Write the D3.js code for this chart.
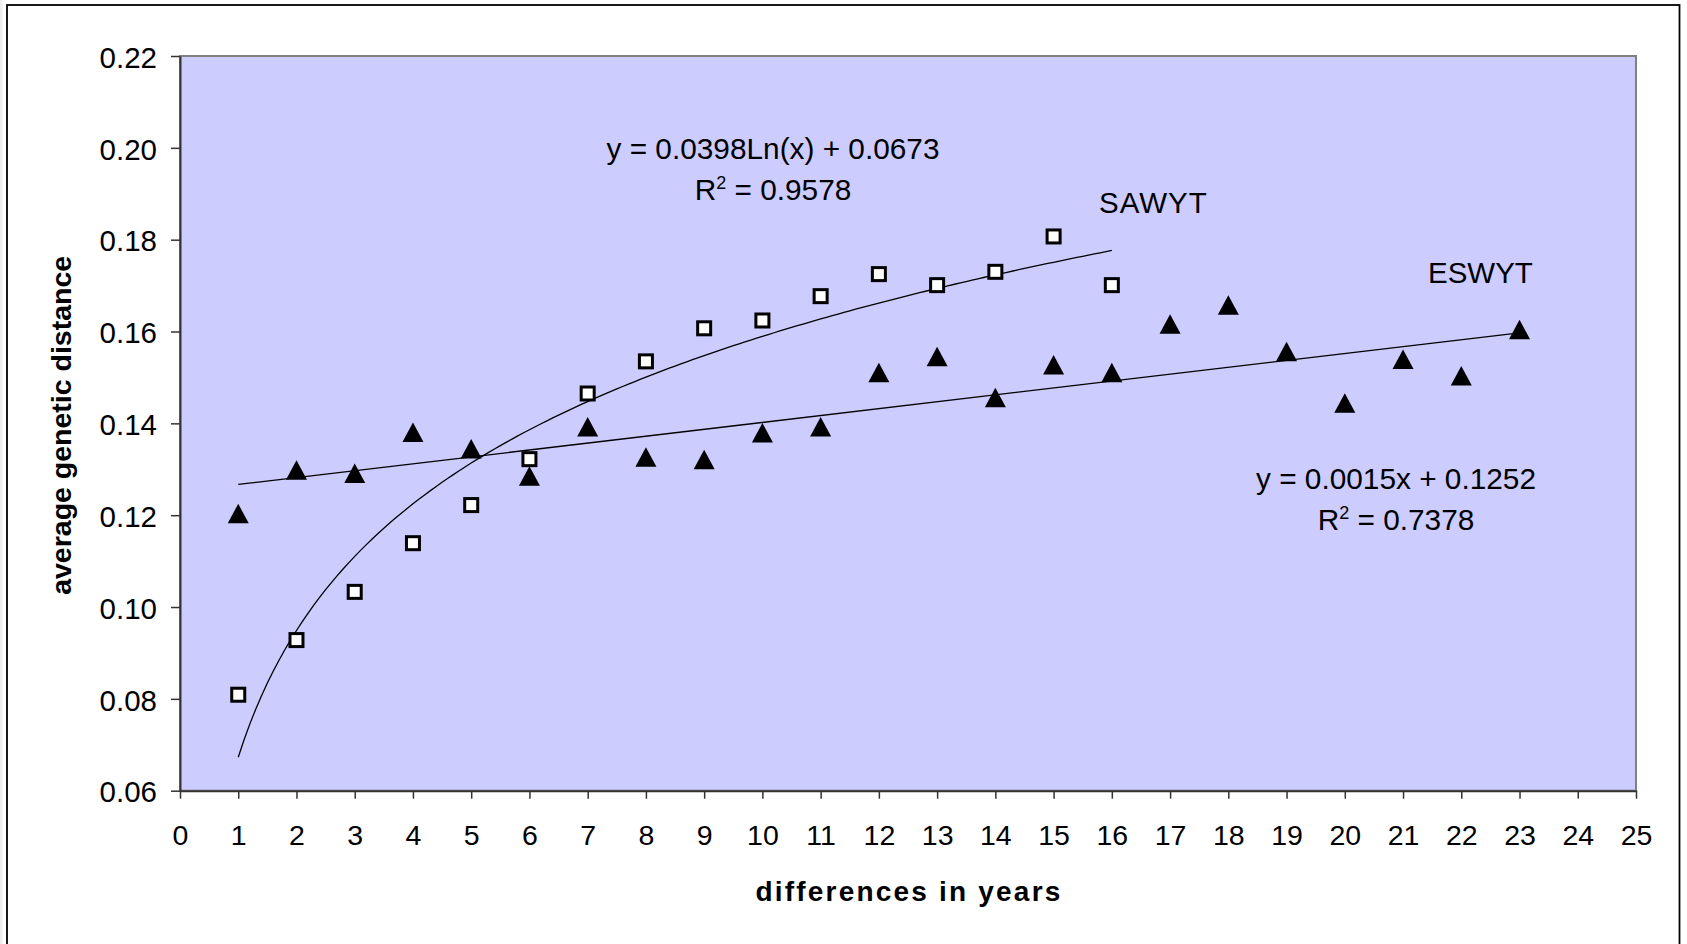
<!DOCTYPE html>
<html>
<head>
<meta charset="utf-8">
<script src="https://cdn.jsdelivr.net/npm/d3@7"></script>
<style>
  html, body { margin: 0; padding: 0; background: #ffffff; }
  svg { display: block; font-family: "Liberation Sans", Arial, sans-serif; }
</style>
</head>
<body>
<svg id="chart" width="1687" height="944"></svg>
<script>
// Difference in years between nursery entries
const yearsSAWYT = [1, 2, 3, 4, 5, 6, 7, 8, 9, 10, 11, 12, 13, 14, 15, 16];
const yearsESWYT = [1, 2, 3, 4, 5, 6, 7, 8, 9, 10, 11, 12, 13, 14, 15, 16, 17, 18, 19, 20, 21, 22, 23];

// Average genetic distance per year difference
const sawytValues = [0.0809, 0.0928, 0.1033, 0.1139, 0.1222, 0.1322, 0.1465, 0.1535,
                     0.1607, 0.1624, 0.1677, 0.1725, 0.1701, 0.1730, 0.1807, 0.1701];
const eswytValues = [0.1203, 0.1298, 0.1291, 0.1380, 0.1344, 0.1285, 0.1392, 0.1326,
                     0.1321, 0.1379, 0.1392, 0.1510, 0.1545, 0.1456, 0.1527, 0.1510,
                     0.1616, 0.1657, 0.1556, 0.1444, 0.1539, 0.1503, 0.1604];

// Fitted trend lines (as stated on the chart)
const sawytTrend = { a: 0.0398, b: 0.0673 };   // y = a Ln(x) + b
const eswytTrend = { a: 0.0015, b: 0.1252 };   // y = a x + b

const xTicks = d3.range(0, 26, 1);
const yTicks = [0.06, 0.08, 0.10, 0.12, 0.14, 0.16, 0.18, 0.20, 0.22];

const svg = d3.select("#chart");

// faint page edge and outer chart frame
svg.append("rect").attr("x", 0).attr("y", 0).attr("width", 2.5).attr("height", 944)
  .attr("fill", "#eeeeee");
svg.append("rect")
  .attr("x", 7).attr("y", 5).attr("width", 1672.5).attr("height", 960)
  .attr("fill", "#ffffff").attr("stroke", "#000000").attr("stroke-width", 1.8);

const plot = { left: 180, right: 1636, top: 56, bottom: 790.7 };

const x = d3.scaleLinear().domain([0, 25]).range([plot.left, plot.right]);
const y = d3.scaleLinear().domain([0.06, 0.22]).range([plot.bottom, plot.top]);

// plot area
svg.append("rect")
  .attr("x", plot.left).attr("y", plot.top)
  .attr("width", plot.right - plot.left).attr("height", plot.bottom - plot.top)
  .attr("fill", "#ccccff").attr("stroke", "#808080").attr("stroke-width", 2);

// axes
const xAxis = d3.axisBottom(x).tickValues(xTicks).tickFormat(d3.format("d"))
  .tickSize(8).tickPadding(26).tickSizeOuter(0);
const yAxis = d3.axisLeft(y).tickValues(yTicks).tickFormat(d3.format(".2f"))
  .tickSize(9).tickPadding(14).tickSizeOuter(0);

const gx = svg.append("g").attr("transform", `translate(0,${plot.bottom})`).call(xAxis);
const gy = svg.append("g").attr("transform", `translate(${plot.left},0)`).call(yAxis);

[gx, gy].forEach(g => {
  g.select(".domain").attr("stroke", "#333333").attr("stroke-width", 2);
  g.selectAll(".tick line").attr("stroke", "#333333").attr("stroke-width", 1.5);
  g.selectAll(".tick text")
    .attr("fill", "#000000")
    .style("font-family", "'Liberation Sans', Arial, sans-serif")
    .style("font-size", "28.5px");
});
gy.selectAll(".tick text").attr("dy", "0.38em").style("font-size", "29.5px");

// axis titles
svg.append("text")
  .attr("x", (plot.left + plot.right) / 2 + 1).attr("y", 901)
  .attr("text-anchor", "middle")
  .style("font-size", "28px").style("font-weight", "bold").style("letter-spacing", "2.2px")
  .text("differences in years");

svg.append("text")
  .attr("transform", `translate(71,${(plot.top + plot.bottom) / 2 + 2}) rotate(-90)`)
  .attr("text-anchor", "middle")
  .style("font-size", "28.5px").style("font-weight", "bold")
  .text("average genetic distance");

// trend lines
const line = d3.line().x(d => x(d[0])).y(d => y(d[1]));

const logPts = d3.range(1, 16.0001, 0.1).map(v => [v, sawytTrend.a * Math.log(v) + sawytTrend.b]);
svg.append("path").datum(logPts)
  .attr("d", line).attr("fill", "none").attr("stroke", "#000000").attr("stroke-width", 1.3);

const linPts = [1, 23].map(v => [v, eswytTrend.a * v + eswytTrend.b]);
svg.append("path").datum(linPts)
  .attr("d", line).attr("fill", "none").attr("stroke", "#000000").attr("stroke-width", 1.3);

// ESWYT triangles
svg.append("g").selectAll("path")
  .data(yearsESWYT.map((v, i) => [v, eswytValues[i]]))
  .join("path")
  .attr("d", "M0,-10 L10.5,9.5 L-10.5,9.5 Z")
  .attr("transform", d => `translate(${x(d[0])},${y(d[1])})`)
  .attr("fill", "#000000");

// SAWYT squares
svg.append("g").selectAll("rect")
  .data(yearsSAWYT.map((v, i) => [v, sawytValues[i]]))
  .join("rect")
  .attr("x", d => x(d[0]) - 6.5).attr("y", d => y(d[1]) - 6.5)
  .attr("width", 13).attr("height", 13)
  .attr("fill", "#ffffff").attr("stroke", "#000000").attr("stroke-width", 3);

// series labels
const labelStyle = sel => sel.style("font-size", "29.5px").attr("fill", "#000000");
svg.append("text").attr("x", 1099).attr("y", 213).call(labelStyle)
  .style("letter-spacing", "1px").text("SAWYT");
svg.append("text").attr("x", 1428).attr("y", 283).call(labelStyle).text("ESWYT");

// trend equations
function equation(cx, y1, eq, r2) {
  const g = svg.append("g").style("font-size", "29.8px").attr("text-anchor", "middle");
  g.append("text").attr("x", cx).attr("y", y1).text(eq);
  const t = g.append("text").attr("x", cx).attr("y", y1 + 41);
  t.append("tspan").text("R");
  t.append("tspan").attr("dy", -11).style("font-size", "18px").text("2");
  t.append("tspan").attr("dy", 11).text(" = " + r2);
}
equation(773, 159, "y = 0.0398Ln(x) + 0.0673", "0.9578");
equation(1396, 489, "y = 0.0015x + 0.1252", "0.7378");
</script>
</body>
</html>
